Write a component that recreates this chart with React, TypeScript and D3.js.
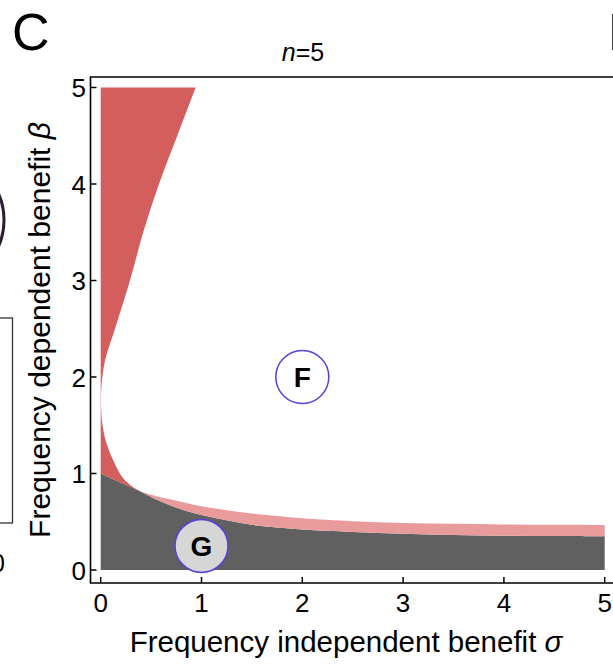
import React from 'react';
import * as d3 from 'd3';

// axis ticks
const sigmaTicks = [0, 1, 2, 3, 4, 5];
const betaTicks = [0, 1, 2, 3, 4, 5];

// white region boundary (read top to bottom), sigma as function of beta
const boundaryBeta = [5, 4.5, 4, 3.5, 3, 2.5, 2.2, 2, 1.77, 1.55, 1.34, 1.17, 1, 0.92, 0.86, 0.816];
const boundarySigma = [0.942, 0.76, 0.578, 0.422, 0.29, 0.142, 0.05, 0.016, 0.003, 0.012, 0.05, 0.11, 0.19, 0.25, 0.32, 0.39];

// top of the dark grey region
const greySigma = [0, 0.2, 0.39, 0.55, 0.7, 0.85, 1, 1.25, 1.5, 1.75, 2, 2.5, 3, 3.5, 4, 4.5, 5];
const greyBeta = [1.0, 0.905, 0.816, 0.73, 0.665, 0.612, 0.57, 0.515, 0.468, 0.44, 0.42, 0.395, 0.375, 0.363, 0.356, 0.352, 0.35];

// top of the light pink band
const pinkSigma = [0.39, 0.55, 0.7, 0.85, 1, 1.25, 1.5, 1.75, 2, 2.5, 3, 3.5, 4, 4.5, 5];
const pinkBeta = [0.816, 0.765, 0.73, 0.695, 0.66, 0.62, 0.585, 0.56, 0.535, 0.505, 0.487, 0.478, 0.472, 0.469, 0.467];

// labelled points
const markers = [
  { label: 'F', sigma: 2, beta: 2, fill: '#ffffff' },
  { label: 'G', sigma: 1, beta: 0.25, fill: '#d6d6d6' },
];

const W = 613;
const H = 668;

export default function App() {
  const x = d3.scaleLinear().domain([0, 5]).range([100.7, 604.7]);
  const y = d3.scaleLinear().domain([0, 5]).range([570, 87.5]);

  const line = d3.line<[number, number]>()
    .x(d => x(d[0]))
    .y(d => y(d[1]))
    .curve(d3.curveCatmullRom);

  const seg = (pts: [number, number][]) => (line(pts) || '').replace(/^M/, 'L');

  const boundary: [number, number][] = boundaryBeta.map((b, i) => [boundarySigma[i], b]);
  const grey: [number, number][] = greySigma.map((s, i) => [s, greyBeta[i]]);
  const pink: [number, number][] = pinkSigma.map((s, i) => [s, pinkBeta[i]]);
  const greyLeft = grey.filter(p => p[0] <= 0.39);
  const greyRight = grey.filter(p => p[0] >= 0.39);

  const redPath =
    `M${x(0)},${y(5)}` + seg(boundary) + seg(greyLeft.slice().reverse()) + 'Z';
  const pinkPath =
    line(pink) + seg(greyRight.slice().reverse()) + 'Z';
  const greyPath =
    `M${x(0)},${y(0)}` + seg(grey) + `L${x(5)},${y(0)}Z`;

  const font = '"Liberation Sans", Arial, Helvetica, sans-serif';
  const frameL = 90.5, frameT = 77, frameB = 583;

  return (
    <svg width={W} height={H} style={{ position: 'absolute', left: 0, top: 0 }} fontFamily={font}>
      <rect width={W} height={H} fill="#fff" />

      {/* fragments of neighbouring panels */}
      <circle cx={-60} cy={220} r={64} fill="none" stroke="#2b1d33" strokeWidth={3} />
      <rect x={-100} y={318} width={112.5} height={205} fill="none" stroke="#333" strokeWidth={1.3} />
      <text x={-9} y={572} fontSize={25}>0</text>
      <text x={608} y={50} fontSize={52}>D</text>

      <text x={12} y={50} fontSize={52}>C</text>
      <text x={303} y={61} fontSize={25} textAnchor="middle">
        <tspan fontStyle="italic">n</tspan>=5
      </text>

      <path d={greyPath} fill="#606060" />
      <path d={pinkPath} fill="#e99b9b" />
      <path d={redPath} fill="#d45e5e" />

      {markers.map(m => (
        <g key={m.label}>
          <circle cx={x(m.sigma)} cy={y(m.beta)} r={26.5} fill={m.fill} stroke="#5a3fdc" strokeWidth={1.5} />
          <text x={x(m.sigma)} y={y(m.beta) + 10} fontSize={28} fontWeight="bold" textAnchor="middle">{m.label}</text>
        </g>
      ))}

      {/* frame */}
      <path d={`M${W + 5},${frameT}H${frameL}V${frameB}H${W + 5}`} fill="none" stroke="#000" strokeWidth={1.6} />

      {sigmaTicks.map(t => (
        <g key={'x' + t}>
          <line x1={x(t)} x2={x(t)} y1={frameB} y2={frameB - 6} stroke="#000" strokeWidth={1.5} />
          <text x={x(t)} y={612} fontSize={26} textAnchor="middle">{t}</text>
        </g>
      ))}
      {betaTicks.map(t => (
        <g key={'y' + t}>
          <line x1={frameL} x2={frameL + 6} y1={y(t)} y2={y(t)} stroke="#000" strokeWidth={1.5} />
          <text x={86} y={y(t) + 9.5} fontSize={26} textAnchor="end">{t}</text>
        </g>
      ))}

      <text x={346} y={652} fontSize={29.5} textAnchor="middle">
        Frequency independent benefit <tspan fontStyle="italic">σ</tspan>
      </text>
      <text transform="translate(50,330) rotate(-90)" fontSize={30} textAnchor="middle">
        Frequency dependent benefit <tspan fontStyle="italic">β</tspan>
      </text>
    </svg>
  );
}
